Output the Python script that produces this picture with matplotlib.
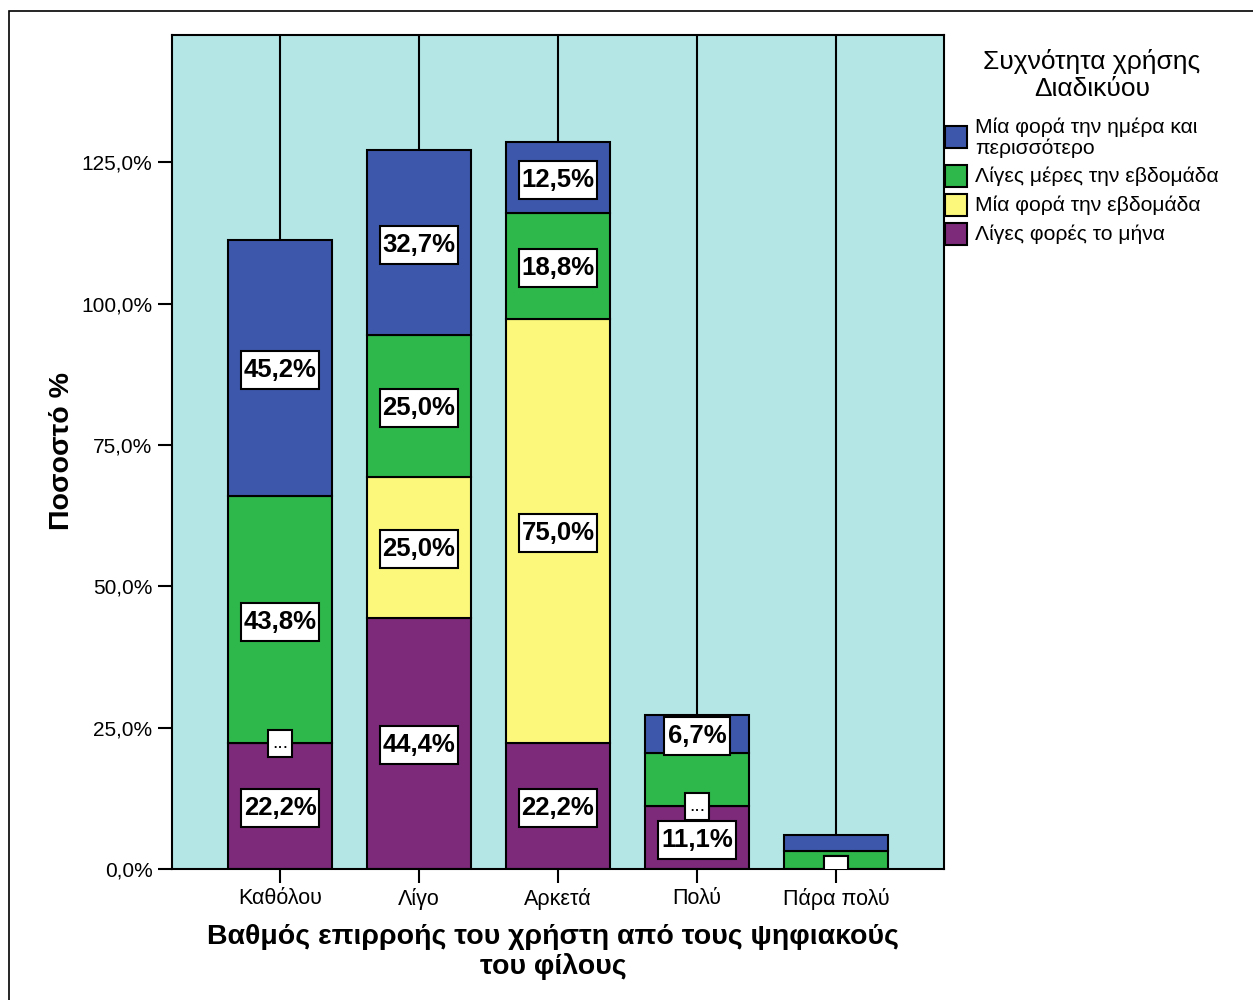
import numpy as np
import matplotlib.pyplot as plt
from matplotlib.patches import Rectangle
from matplotlib.transforms import Bbox, TransformedBbox

plt.rcParams['font.family'] = ['Liberation Sans', 'DejaVu Sans']

# Βαθμός επιρροής (κατηγορίες άξονα x)
categories = ['Καθόλου', 'Λίγο', 'Αρκετά', 'Πολύ', 'Πάρα πολύ']

# Ποσοστά ανά συχνότητα χρήσης Διαδικτύου (από κάτω προς τα πάνω)
monthly = [22.2, 44.4, 22.2, 11.1, 0.0]        # Λίγες φορές το μήνα
weekly_once = [0.0, 25.0, 75.0, 0.0, 0.0]      # Μία φορά την εβδομάδα
weekly_days = [43.8, 25.0, 18.8, 9.4, 3.1]     # Λίγες μέρες την εβδομάδα
daily = [45.2, 32.7, 12.5, 6.7, 2.9]           # Μία φορά την ημέρα και περισσότερο

series_names = ['Λίγες φορές το μήνα', 'Μία φορά την εβδομάδα',
                'Λίγες μέρες την εβδομάδα', 'Μία φορά την ημέρα και\nπερισσότερο']
y_ticks = [0, 25, 50, 75, 100, 125]

colors = ['#7d2a7b', '#fbf87c', '#2eb74a', '#3d58ab']
bg = '#b4e6e6'
# labels that SPSS suppressed (category index, series index)
hidden = {(3, 2), (4, 2), (4, 3)}

W, H = 1253, 1000
fig = plt.figure(figsize=(W / 100, H / 100), dpi=100)
ax = fig.add_axes([172 / W, 1 - 869 / H, 772 / W, 834 / H])
ax.set_facecolor(bg)

x = np.arange(len(categories))
data = [monthly, weekly_once, weekly_days, daily]
bottom = np.zeros(len(categories))
ymax = 147.5
xlo, xhi = -0.777, len(categories) - 1 + 0.777

ax.set_xlim(xlo, xhi)
ax.set_ylim(0, ymax)

# pixels per data unit, used to size the label boxes
px_x = 772 / (xhi - xlo)
px_y = 834 / ymax

totals = np.sum(data, axis=0)
ax.vlines(x, totals, ymax, color='black', lw=1.5, zorder=1)

segments = []
for si, vals in enumerate(data):
    vals = np.array(vals)
    ax.bar(x, vals, width=0.75, bottom=bottom, color=colors[si],
           edgecolor='black', linewidth=1.5, zorder=2)
    for ci, v in enumerate(vals):
        if (ci, si) not in hidden:
            segments.append((x[ci], bottom[ci] + v / 2, v))
    bottom = bottom + vals

renderer = fig.canvas.get_renderer()


def boxed_label(xc, yc, txt, w_px, h_px, z, **kw):
    w, h = w_px / px_x, h_px / px_y
    x0, y0 = xc - w / 2, yc - h / 2
    ax.add_patch(Rectangle((x0, y0), w, h, fc='white', ec='black', lw=1.5, zorder=z))
    t = ax.text(xc, yc, txt, ha='center', va='center', zorder=z + 0.5, **kw)
    # text stays inside its box and inside the plot area
    clip = Bbox.from_extents(x0, max(y0, 0), x0 + w, min(y0 + h, ymax))
    t.set_clip_on(True)
    t.set_clip_box(TransformedBbox(clip, ax.transData))
    return t


# value labels in white boxes
for xc, yc, v in segments:
    if v == 0:
        boxed_label(xc, yc, '...', 24, 27, 6, fontsize=14)
    else:
        txt = f'{v:.1f}%'.replace('.', ',')
        probe = ax.text(0, 0, txt, fontsize=18.5, fontweight='bold')
        tw = probe.get_window_extent(renderer).width
        probe.remove()
        boxed_label(xc, yc - 0.35, txt, min(tw + 8, 78), 38, 4,
                    fontsize=18.5, fontweight='bold')

ax.set_xticks(x)
ax.set_xticklabels(categories)
ax.set_yticks(y_ticks)
ax.set_yticklabels([f'{t:.1f}%'.replace('.', ',') for t in y_ticks])
ax.tick_params(direction='out', length=10, width=1.5, labelsize=15, pad=4)
ax.tick_params(axis='x', labelsize=15.5)
for s in ax.spines.values():
    s.set_linewidth(1.5)

fig.text(62 / W, 1 - 451 / H, 'Ποσοστό %', rotation=90, ha='center', va='center',
         fontsize=20.5, fontweight='bold')
fig.text(553 / W, 1 - 952 / H,
         'Βαθμός επιρροής του χρήστη από τους ψηφιακούς\nτου φίλους',
         ha='center', va='center', fontsize=20.5, fontweight='bold', linespacing=1.12)

# legend drawn by hand on the right
fig.text(1092 / W, 1 - 75 / H, 'Συχνότητα χρήσης\nΔιαδικύου', ha='center', va='center',
         fontsize=19, linespacing=1.2)
legend_rows = [(3, 126, 148, 138), (2, 165, 187, 176), (1, 194, 216, 205), (0, 223, 245, 234)]
for si, top, bot, yc in legend_rows:
    fig.add_artist(Rectangle((945 / W, 1 - bot / H), 22 / W, (bot - top) / H,
                             transform=fig.transFigure, fc=colors[si], ec='black', lw=1.5))
    fig.text(975 / W, 1 - yc / H, series_names[si], ha='left', va='center',
             fontsize=15.2, linespacing=1.12)

# outer frame
fig.add_artist(Rectangle((9 / W, -0.05), 1.2, 1.05 - 11 / H, transform=fig.transFigure,
                         fill=False, ec='black', lw=1.2))

fig.savefig('out.png', dpi=100)
